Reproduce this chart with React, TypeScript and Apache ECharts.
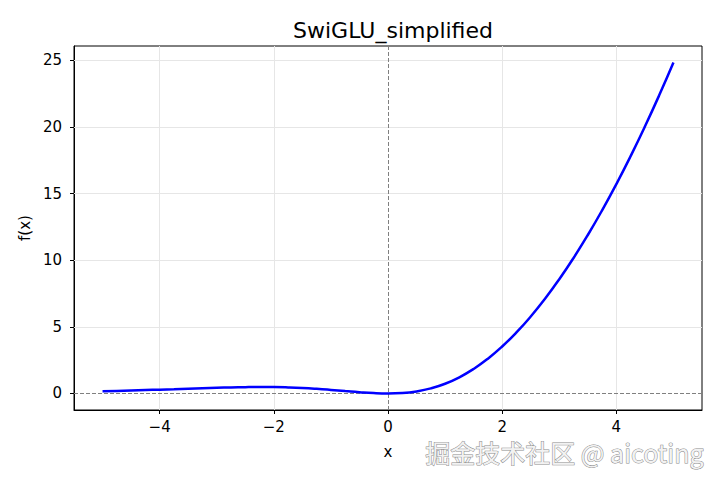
import React, { useEffect, useRef } from "react";
import * as echarts from "echarts";

const xValues = [
  -5, -4.75, -4.5, -4.25, -4, -3.75, -3.5, -3.25, -3, -2.75, -2.5, -2.25, -2, -1.75, -1.5, -1.25, -1,
  -0.75, -0.5, -0.25, 0, 0.25, 0.5, 0.75, 1, 1.25, 1.5, 1.75, 2, 2.25, 2.5, 2.75, 3, 3.25, 3.5, 3.75,
  4, 4.25, 4.5, 4.75, 5,
];
const yValues = [
  0.167, 0.194, 0.223, 0.254, 0.288, 0.323, 0.359, 0.394, 0.427, 0.454, 0.474, 0.483, 0.477, 0.453,
  0.411, 0.348, 0.269, 0.181, 0.094, 0.027, 0, 0.035, 0.156, 0.382, 0.731, 1.215, 1.84, 2.609, 3.523,
  4.58, 5.776, 7.108, 8.573, 10.168, 11.891, 13.739, 15.712, 17.809, 20.028, 22.369, 24.833,
];
const xTicks = [-4, -2, 0, 2, 4];
const yTicks = [0, 5, 10, 15, 20, 25];

const FONT = "DejaVu Sans";
const fmt = (v: number) => (v < 0 ? "\u2212" + Math.abs(v) : String(v));

export default function App() {
  const ref = useRef<HTMLDivElement>(null);
  useEffect(() => {
    if (!ref.current) return;
    const chart = echarts.init(ref.current, null, { renderer: "svg" });
    const gridLine = { color: "#e6e6e6", width: 1, type: "solid" as const };
    const zeroLine = { color: "#808080", width: 1, type: [4, 2] as any };
    chart.setOption({
      animation: false,
      backgroundColor: "#fff",
      title: {
        text: "SwiGLU_simplified",
        left: 388,
        top: 14,
        textAlign: "center",
        textStyle: { fontFamily: FONT, fontSize: 22, fontWeight: "normal", color: "#000" },
      },
      grid: {
        left: 74,
        right: 18,
        top: 46,
        bottom: 70,
        show: true,
        borderColor: "#000",
        borderWidth: 1,
        backgroundColor: "transparent",
      },
      xAxis: {
        type: "value",
        min: -5.5,
        max: 5.5,
        name: "x",
        nameLocation: "middle",
        nameGap: 34,
        nameTextStyle: { fontFamily: FONT, fontSize: 15, color: "#000" },
        axisLine: { show: true, onZero: false, lineStyle: { color: "#000" } },
        axisTick: { show: true, length: 4, customValues: xTicks, lineStyle: { color: "#000" } },
        axisLabel: {
          customValues: xTicks,
          formatter: fmt,
          margin: 9,
          fontFamily: FONT,
          fontSize: 15,
          lineHeight: 15,
          color: "#000",
        },
        splitLine: { show: false },
      },
      yAxis: {
        type: "value",
        min: -1.24,
        max: 26.07,
        name: "f(x)",
        nameLocation: "middle",
        nameGap: 41,
        nameRotate: 90,
        nameTextStyle: { fontFamily: FONT, fontSize: 15, color: "#000" },
        axisLine: { show: true, onZero: false, lineStyle: { color: "#000" } },
        axisTick: { show: true, length: 4, customValues: yTicks, lineStyle: { color: "#000" } },
        axisLabel: {
          customValues: yTicks,
          formatter: fmt,
          margin: 12,
          fontFamily: FONT,
          fontSize: 15,
          color: "#000",
        },
        splitLine: { show: false },
      },
      series: [
        {
          type: "line",
          data: xValues.map((x, i) => [x, yValues[i]]),
          showSymbol: false,
          smooth: true,
          lineStyle: { color: "#0000ff", width: 2.5 },
          z: 5,
          markLine: {
            silent: true,
            symbol: "none",
            label: { show: false },
            data: [
              ...xTicks.filter((t) => t !== 0).map((t) => ({ xAxis: t, lineStyle: gridLine })),
              ...yTicks.filter((t) => t !== 0).map((t) => ({ yAxis: t, lineStyle: gridLine })),
              { xAxis: 0, lineStyle: zeroLine },
              { yAxis: 0, lineStyle: zeroLine },
            ],
          },
        },
      ],
      graphic: [
        {
          type: "text",
          right: 16,
          top: 439,
          silent: true,
          style: {
            text: "掘金技术社区 @ aicoting",
            font: '25px "Noto Sans CJK SC"',
            lineHeight: 25,
            fill: "#f2f2f2",
            stroke: "#8a8a8a",
            lineWidth: 1,
          },
          z: 100,
        },
      ],
    });
    return () => chart.dispose();
  }, []);
  return (
    <div
      ref={ref}
      style={{ position: "fixed", left: 0, top: 0, width: 720, height: 480 }}
    />
  );
}
